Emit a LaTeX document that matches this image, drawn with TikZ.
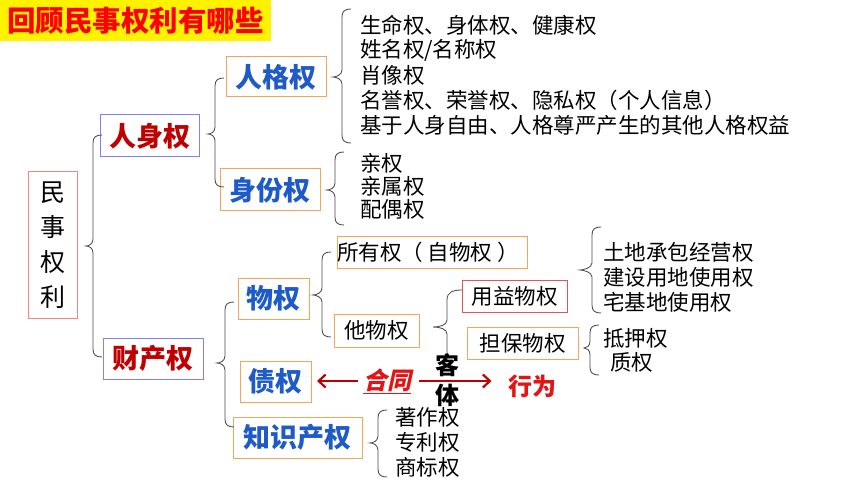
\documentclass[tikz,border=0pt]{standalone}
\usepackage{fontspec}
\setmainfont{Noto Sans CJK SC}
\newfontfamily\slcjk[FakeSlant=0.22]{Noto Sans CJK SC}
\usetikzlibrary{arrows.meta}
\definecolor{darkred}{HTML}{C00000}
\definecolor{brightred}{HTML}{E41414}
\definecolor{blueT}{HTML}{1E5BC8}
\definecolor{orangeb}{HTML}{F2A65A}
\definecolor{purpleb}{HTML}{8080FF}
\definecolor{pinkb}{HTML}{FF8080}
\definecolor{redb}{HTML}{E05555}
\newcommand\brc[5]{%
 \draw[brline] (#1+9,#2) .. controls (#1+3,#2) and (#1,#2+2) .. (#1,#2+8)
   -- (#1,#3-7) .. controls (#1,#3-2) and (#1-#5+3,#3) .. (#1-#5,#3)
   .. controls (#1-#5+3,#3) and (#1,#3+2) .. (#1,#3+7)
   -- (#1,#4-8) .. controls (#1,#4-2) and (#1+3,#4) .. (#1+9,#4);}
\begin{document}
\begin{tikzpicture}[x=1pt,y=-1pt,
 every node/.style={inner sep=0pt, outer sep=0pt},
 hbox/.style={draw, line width=1pt, align=center},
 lvlA/.style={hbox, draw=purpleb, text=darkred, font=\fontsize{27}{30}\selectfont\bfseries},
 lvlB/.style={hbox, draw=orangeb, text=blueT, font=\fontsize{27}{30}\selectfont\bfseries},
 lvlC/.style={hbox, draw=orangeb, text=black, font=\fontsize{21.5}{25}\selectfont},
 item/.style={anchor=west, font=\fontsize{21.5}{25}\selectfont},
 brline/.style={draw=black!70, line width=0.85pt},
 redarrow/.style={draw=darkred, line width=2.2pt, -{Straight Barb[length=7pt,width=13pt]}}]
\useasboundingbox (0,0) rectangle (860,484);
\fill[white] (0,0) rectangle (860,484);
% title
\node[fill=yellow, minimum width=271pt, minimum height=41pt, text=red, font=\fontsize{28.5}{30}\selectfont\bfseries] (title) at (135.5,20.5) {回顾民事权利有哪些};
% root
\node[hbox, draw=pinkb, minimum width=49pt, minimum height=146pt, font=\fontsize{25}{35}\selectfont] (root) at (52.5,245) {民\\事\\权\\利};
% level A
\node[lvlA, minimum width=99pt, minimum height=42pt] (rs) at (149.5,136) {人身权};
\node[lvlA, minimum width=100pt, minimum height=41pt] (cc) at (153,358.5) {财产权};
% level B
\node[lvlB, minimum width=100pt, minimum height=40pt] (rg) at (276,77) {人格权};
\node[lvlB, minimum width=100pt, minimum height=42pt] (sf) at (270,190) {身份权};
\node[lvlB, minimum width=71pt, minimum height=41pt] (wq) at (273.5,298.5) {物权};
\node[lvlB, minimum width=71pt, minimum height=41pt] (zq) at (275.5,381.5) {债权};
\node[lvlB, minimum width=129pt, minimum height=41pt] (zs) at (297.5,437.5) {知识产权};
% level C
\node[lvlC, minimum width=190pt, minimum height=32pt] (syq) at (432,252) {所有权（ 自物权 ）\hspace{8pt}};
\node[lvlC, minimum width=85pt, minimum height=33pt] (twq) at (376.5,330.5) {他物权};
\node[lvlC, draw=redb, minimum width=105pt, minimum height=32pt] (yy) at (514.5,296) {用益物权};
\node[lvlC, minimum width=111pt, minimum height=32pt] (db) at (522.5,343) {担保物权};
% items
\node[item] (a1) at (360,25) {生命权、身体权、健康权};
\node[item] (a2) at (360,50) {姓名权/名称权};
\node[item] (a3) at (360,75) {肖像权};
\node[item] (a4) at (360,100) {名誉权、荣誉权、隐私权（个人信息）};
\node[item] (a5) at (360,125) {基于人身自由、人格尊严产生的其他人格权益};
\node[item] (b1) at (360,163) {亲权};
\node[item] (b2) at (360,186) {亲属权};
\node[item] (b3) at (360,209) {配偶权};
\node[item] (c1) at (603,252) {土地承包经营权};
\node[item] (c2) at (603,277) {建设用地使用权};
\node[item] (c3) at (603,302) {宅基地使用权};
\node[item] (d1) at (603,338) {抵押权};
\node[item] (d2) at (610,362) {质权};
\node[item] (e1) at (395,417) {著作权};
\node[item] (e2) at (395,442) {专利权};
\node[item] (e3) at (395,467) {商标权};
% braces
\brc{93}{135}{246}{357}{7}
\brc{215}{78}{134}{187}{7}
\brc{342}{9}{77}{143}{9}
\brc{335}{152}{190}{225}{8}
\brc{225}{302}{363}{427}{8}
\brc{322}{252}{295}{337}{9}
\brc{592}{227}{270}{313}{12}
\brc{590}{325}{348}{375}{6}
\brc{378}{410}{443}{477}{8}
\draw[brline] (462,290) .. controls (453,290) and (447,292) .. (447,300)
   -- (447,320) .. controls (447,325) and (440,327) .. (433,327)
   .. controls (440,327) and (447,329) .. (447,334) -- (447,354);
% contract / behaviour
\node[text=brightred, font=\fontsize{24}{26}\selectfont\bfseries\slcjk] (ht) at (387,381) {\underline{合同}};
\node[text=brightred, font=\fontsize{24}{26}\selectfont\bfseries] (xw) at (532.5,386) {行为};
\node[font=\fontsize{24}{30}\selectfont\bfseries, align=center] (kt) at (447,380) {客\\体};
\draw[redarrow] ([xshift=-5pt]ht.west) -- ([xshift=6pt]zq.east |- ht.west);
\draw[redarrow] ([xshift=8pt]ht.east) -- ([xshift=-17pt]xw.west |- ht.east);
\end{tikzpicture}
\end{document}
